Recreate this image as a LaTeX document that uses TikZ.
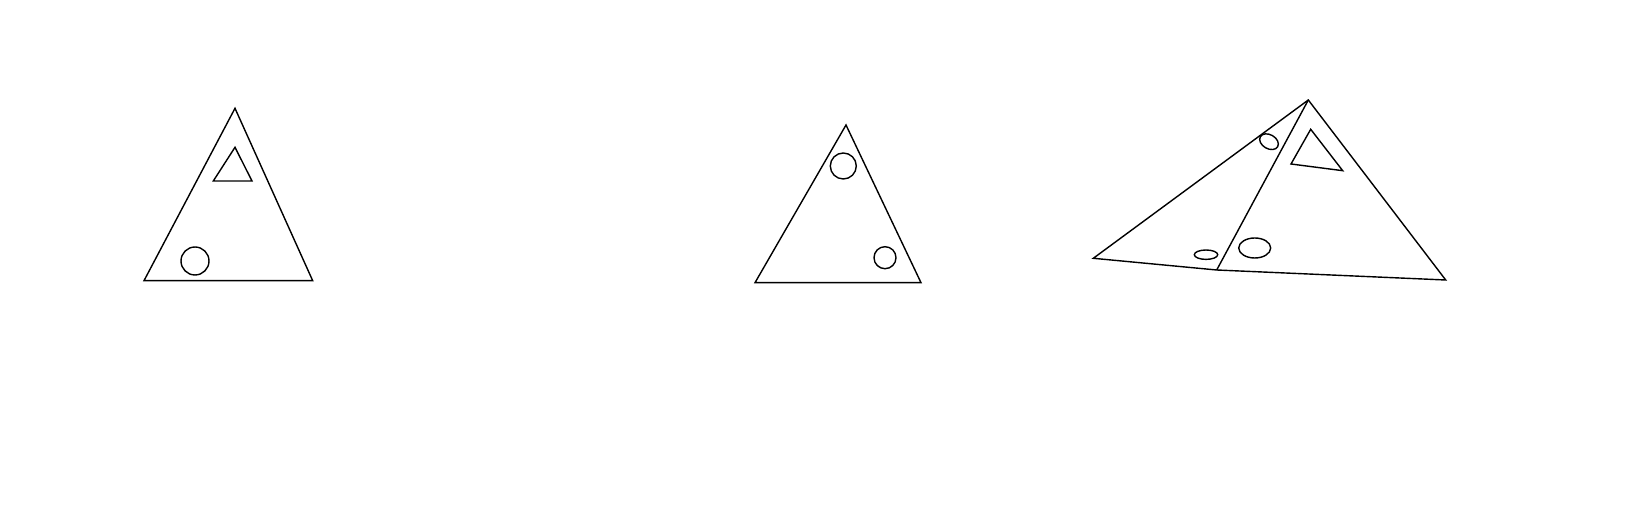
\documentclass[tikz,border=0pt]{standalone}
\usepackage{tikz}
\usetikzlibrary{calc}

\begin{document}
\begin{tikzpicture}[x=0.02cm,y=0.02cm,
    shape line/.style={draw=black,line width=0.8pt,line join=miter}]
    \useasboundingbox (0,0) rectangle (1640,520);

    % left triangle
    \coordinate (lefttop) at (235,411.7);
    \coordinate (leftbl) at (144,239.3);
    \coordinate (leftbr) at (312.7,239.3);
    \draw[shape line] (lefttop) -- (leftbl) -- (leftbr) -- cycle;
    \draw[shape line] (235,372.7) -- (213.3,339) -- (252,339) -- cycle;
    \draw[shape line] (195,259) circle (14);

    % middle triangle
    \coordinate (midtop) at (846,395);
    \coordinate (midbl) at (755,237.3);
    \coordinate (midbr) at (921,237.3);
    \draw[shape line] (midtop) -- (midbl) -- (midbr) -- cycle;
    \draw[shape line] (843.3,354) circle (13);
    \draw[shape line] (885,262.3) circle (11);

    % right triangle, split in two
    \coordinate (righttop) at (1308.3,420);
    \coordinate (rightl) at (1093.3,261.7);
    \coordinate (rightm) at (1216.7,250);
    \coordinate (rightr) at (1445.7,240);
    \draw[shape line] (righttop) -- (rightl) -- (rightm) -- (rightr) -- cycle;
    \draw[shape line] (righttop) -- (rightm);
    \draw[shape line] (1310.7,390.7) -- (1291,356) -- (1342.7,349.3) -- cycle;
    \draw[shape line,rotate around={-30:(1269,378.3)}]
      (1269,378.3) ellipse [x radius=10,y radius=7];
    \draw[shape line] (1206,265.3) ellipse [x radius=11.7,y radius=4.7];
    \draw[shape line] (1254.7,272) ellipse [x radius=16,y radius=10];
\end{tikzpicture}
\end{document}
